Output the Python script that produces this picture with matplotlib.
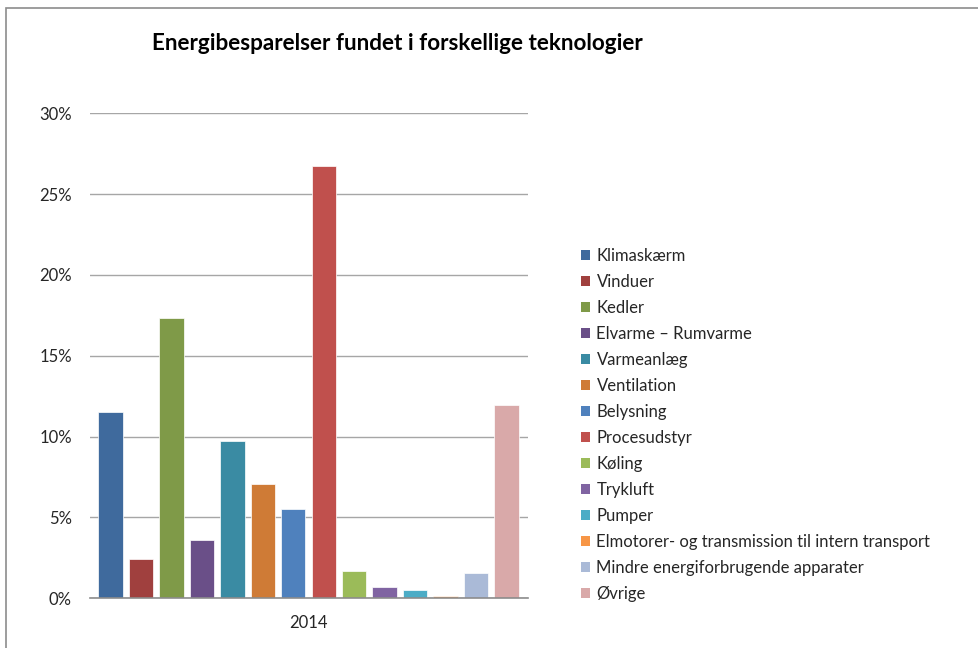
import matplotlib
matplotlib.use("Agg")
import matplotlib.pyplot as plt
from matplotlib.patches import Patch, Rectangle
from matplotlib.ticker import PercentFormatter

title = "Energibesparelser fundet i forskellige teknologier"
category = "2014"
technologies = [
    "Klimaskærm", "Vinduer", "Kedler", "Elvarme – Rumvarme", "Varmeanlæg",
    "Ventilation", "Belysning", "Procesudstyr", "Køling", "Trykluft",
    "Pumper", "Elmotorer- og transmission til intern transport",
    "Mindre energiforbrugende apparater", "Øvrige",
]
values = [0.1151, 0.0244, 0.1731, 0.0362, 0.0970, 0.0705, 0.0552, 0.2674,
          0.0169, 0.0068, 0.0051, 0.0014, 0.0155, 0.1193]
colors = ["#3F6A9D", "#A0403E", "#7F9A48", "#6A4F88", "#3A8BA3", "#CF7B36",
          "#4F81BD", "#C0504D", "#9BBB59", "#8064A2", "#4BACC6", "#F79646",
          "#AABAD7", "#D9A9A9"]
yticks = [0, 0.05, 0.10, 0.15, 0.20, 0.25, 0.30]

FONT = ["Lato", "DejaVu Sans"]
plt.rcParams["font.family"] = FONT

W, H = 979, 648
fig = plt.figure(figsize=(W / 100, H / 100), dpi=100)
fig.patch.set_facecolor("white")

# chart border (left/top visible)
fig.add_artist(Rectangle((6 / W, -0.01), 1.2, (H - 8) / H + 0.01, transform=fig.transFigure,
                         fill=False, edgecolor="#8C8C8C", linewidth=1.2))

ax = fig.add_axes([90 / W, 1 - 598.3 / H, (528 - 90) / W, (598.3 - 113.3) / H])
n = len(values)
xs = list(range(n))
handles = []
for i, (lab, v, c) in enumerate(zip(technologies, values, colors)):
    ax.bar(xs[i], v, width=0.8, color=c, edgecolor="white", linewidth=0.5, zorder=3)
    handles.append(Patch(facecolor=c, edgecolor="none", label=lab))

ax.set_xlim(-0.673, n - 1 + 0.706)
ax.set_ylim(0, 0.30)
ax.set_yticks(yticks)
ax.yaxis.set_major_formatter(PercentFormatter(1.0, decimals=0))
ax.set_xticks([(n - 1) / 2])
ax.set_xticklabels([category])
ax.tick_params(axis="both", length=0, labelsize=12, colors="#262626")
ax.tick_params(axis="y", pad=13)
ax.tick_params(axis="x", pad=12)
ax.yaxis.grid(True, color="#A6A6A6", linewidth=1.0, zorder=0)
for s in ["left", "right", "top"]:
    ax.spines[s].set_visible(False)
ax.spines["bottom"].set_color("#8C8C8C")
ax.spines["bottom"].set_linewidth(1.2)
ax.spines["bottom"].set_zorder(4)

fig.text(397 / W, 1 - 43 / H, title, ha="center", va="center",
         fontsize=16.2, fontweight="bold", color="black")

leg = fig.legend(handles=handles, loc="upper left",
                 bbox_to_anchor=(574 / W, 1 - 241 / H),
                 frameon=False, fontsize=12, handlelength=0.55, handleheight=0.55,
                 handletextpad=0.4, labelspacing=0.6, borderaxespad=0)
for t in leg.get_texts():
    t.set_color("#262626")

fig.savefig("out.png", dpi=100)
